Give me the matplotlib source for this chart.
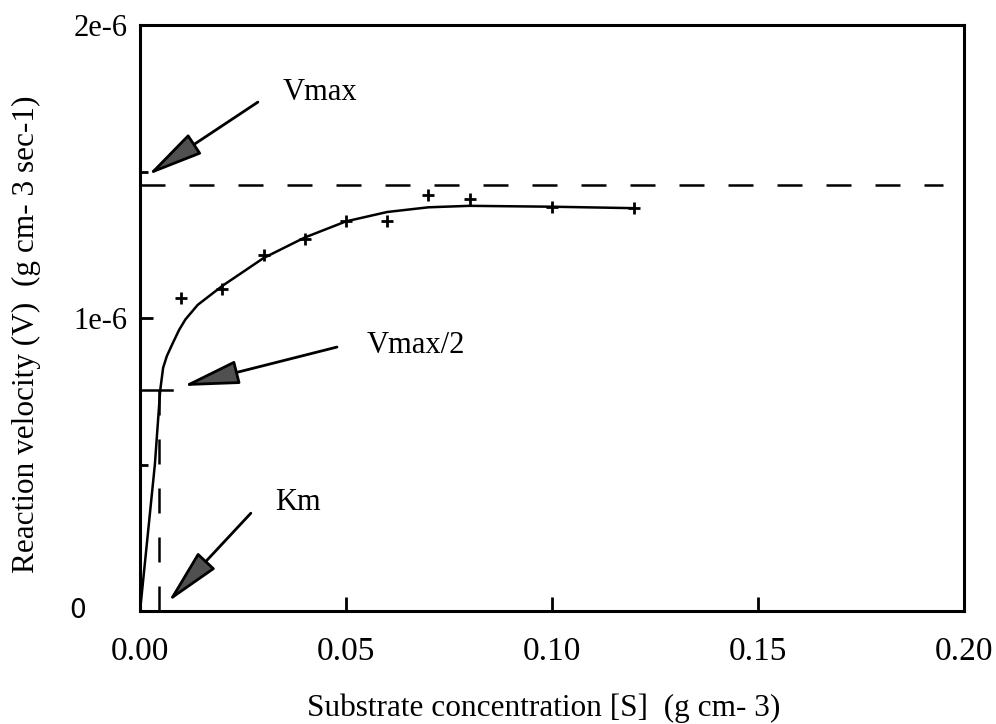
import matplotlib
matplotlib.use("Agg")
import matplotlib.pyplot as plt

plt.rcParams['font.family'] = ['Liberation Serif', 'DejaVu Serif']

# measured points: substrate concentration (g cm-3) vs reaction velocity
s_obs = [0.01, 0.02, 0.03, 0.04, 0.05, 0.06, 0.07, 0.08, 0.10, 0.12]
v_obs = [1.07e-6, 1.10e-6, 1.215e-6, 1.27e-6, 1.33e-6, 1.33e-6,
         1.42e-6, 1.405e-6, 1.38e-6, 1.375e-6]

# hand-fitted saturation curve
s_fit = [0.0, 0.0036, 0.0049, 0.0056, 0.0065, 0.0078, 0.0095, 0.011,
         0.014, 0.02, 0.03, 0.04, 0.05, 0.06, 0.07, 0.08, 0.10, 0.12]
v_fit = [0.0, 0.50e-6, 0.754e-6, 0.83e-6, 0.87e-6, 0.91e-6, 0.96e-6,
         0.995e-6, 1.045e-6, 1.11e-6, 1.205e-6, 1.275e-6, 1.33e-6,
         1.362e-6, 1.378e-6, 1.383e-6, 1.38e-6, 1.375e-6]

vmax = 1.455e-6
vmax_half = 0.754e-6
km = 0.0046

x_ticks = [0.0, 0.05, 0.10, 0.15, 0.20]
x_labels = ['0.00', '0.05', '0.10', '0.15', '0.20']
y_ticks = [0.0, 1e-6, 2e-6]
y_labels = ['', '1e-6', '2e-6']

fig = plt.figure(figsize=(9.96, 7.24), dpi=100)
ax = fig.add_axes([0.1406, 0.156, 0.8273, 0.8094])

ax.plot(s_fit, v_fit, color='black', lw=1.8, solid_joinstyle='round')
ax.plot(s_obs, v_obs, ls='none', marker='+', ms=9, mew=2, color='black')

# Vmax, Vmax/2 and Km guide lines
ax.plot([0.0, 0.195], [vmax, vmax], color='black', lw=1.8, dashes=(10, 9.6))
ax.plot([0.0, 0.0078], [vmax_half, vmax_half], color='black', lw=1.8)
ax.plot([km, km], [0.0, vmax_half], color='black', lw=1.8, dashes=(10, 9.6))

arrow = dict(arrowstyle='-|>,head_length=1.4,head_width=0.3',
             mutation_scale=25, lw=2, edgecolor='black', facecolor='#505050',
             shrinkA=0, shrinkB=0)
ax.annotate('', xy=(0.0019, 1.488e-6), xytext=(0.0286, 1.737e-6), arrowprops=arrow)
ax.annotate('', xy=(0.0104, 0.768e-6), xytext=(0.0478, 0.901e-6), arrowprops=arrow)
ax.annotate('', xy=(0.0068, 0.031e-6), xytext=(0.0269, 0.334e-6), arrowprops=arrow)

ax.text(0.0437, 1.771e-6, 'Vmax', fontsize=22, ha='center', va='center')
ax.text(0.0551, 0.908e-6, 'Vmax/2', fontsize=22, ha='left', va='center')
ax.text(0.0383, 0.372e-6, 'Km', fontsize=22, ha='center', va='center')

ax.set_xlim(0.0, 0.20)
ax.set_ylim(0.0, 2e-6)
ax.set_xticks(x_ticks, labels=x_labels, fontsize=24)
ax.set_yticks(y_ticks, labels=y_labels, fontsize=22)
ax.set_yticks([0.5e-6, 1.5e-6], minor=True)
ax.tick_params(axis='x', direction='in', length=10, width=2, pad=18)
ax.tick_params(axis='y', which='major', direction='in', length=9, width=2, pad=9)
ax.tick_params(axis='y', which='minor', direction='in', length=6, width=2)
ax.text(-0.0752, 0.0, '0', family='DejaVu Sans', fontsize=19,
        ha='center', va='center', transform=ax.get_yaxis_transform())

for sp in ax.spines.values():
    sp.set_linewidth(2.2)

ax.set_xlabel('Substrate concentration [S]  (g cm- 3)', fontsize=22.5, va='center')
ax.xaxis.set_label_coords(0.49, -0.1655)
ax.set_ylabel('Reaction velocity (V)  (g cm- 3 sec-1)', fontsize=22.5, va='center')
ax.yaxis.set_label_coords(-0.138, 0.473)

fig.savefig('out.png', dpi=100)
